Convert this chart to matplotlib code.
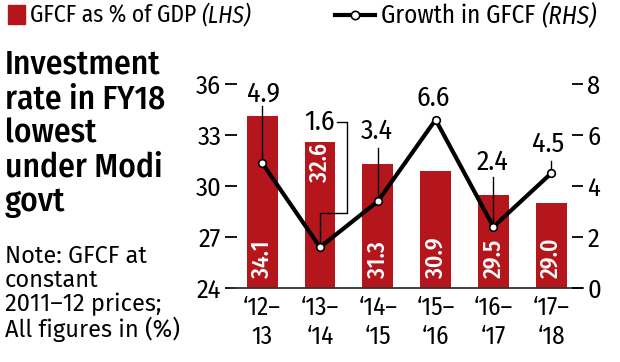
import matplotlib
matplotlib.use('Agg')
import matplotlib.pyplot as plt
from matplotlib.patches import Rectangle
from matplotlib.lines import Line2D

plt.rcParams['font.family'] = ['Fira Sans Condensed', 'Fira Sans Extra Condensed', 'DejaVu Sans']

# data
years = ['\u201812\u2013\n13', '\u201813\u2013\n\u201814', '\u201814\u2013\n\u201815',
         '\u201815\u2013\n\u201816', '\u201816\u2013\n\u201817', '\u201817\u2013\n\u201818']
gfcf_share = [34.1, 32.6, 31.3, 30.9, 29.5, 29.0]
gfcf_growth = [4.9, 1.6, 3.4, 6.6, 2.4, 4.5]
left_ticks = [24, 27, 30, 33, 36]
right_ticks = [0, 2, 4, 6, 8]

red = '#b5161c'
x = list(range(len(years)))

fig = plt.figure(figsize=(6.2, 3.62), dpi=100)
ax1 = fig.add_axes([0.3726, 0.2044, 0.5677, 0.5635])
ax2 = ax1.twinx()

#bars on left axis
ax1.bar(x, [v - 24 for v in gfcf_share], bottom=24, width=0.53, color=red, zorder=2)
ax1.set_ylim(24, 36)
ax1.set_xlim(-0.54, 5.55)
ax1.set_yticks(left_ticks)
ax1.set_xticks(x)
ax1.set_xticklabels(years, fontsize=18, linespacing=1.2)
ax1.tick_params(axis='x', length=0, pad=5)
ax1.tick_params(axis='y', direction='inout', length=8, width=1.3, pad=3, labelsize=19)

#bar values, rotated inside bars
for i, v in enumerate(gfcf_share):
    if i == 1:
        ax1.text(i, v - 0.05, f'{v:.1f}', rotation=90, ha='center', va='top',
                 color='white', fontsize=17, fontweight='medium', zorder=3)
    else:
        ax1.text(i, 24.6, f'{v:.1f}', rotation=90, ha='center', va='bottom',
                 color='white', fontsize=17, fontweight='medium', zorder=3)

#growth line on right axis
ax2.plot(x, gfcf_growth, color='black', lw=3, zorder=4,
         marker='o', ms=5.5, mfc='white', mec='black', mew=1.2, clip_on=False)
ax2.set_ylim(0, 8)
ax2.set_yticks(right_ticks)
ax2.tick_params(axis='y', direction='in', length=8, width=1.3, pad=3, labelsize=19)

for a in (ax1, ax2):
    for s in ['top', 'left', 'right']:
        a.spines[s].set_visible(False)
ax1.spines['bottom'].set_linewidth(1.3)
ax1.spines['bottom'].set_color('#333333')
ax2.spines['bottom'].set_visible(False)

#growth labels with leader lines
lab_pos = [(0.02, 7.6), (1.0, 6.5), (1.99, 6.15), (2.96, 7.45), (3.98, 4.95), (4.95, 5.65)]
for (lx, ly), v in zip(lab_pos, gfcf_growth):
    ax2.text(lx, ly, f'{v:.1f}', ha='center', va='center', fontsize=20, clip_on=False, zorder=5)

leaders = [
    ([0, 0], [7.15, 4.9]),
    ([1.3, 1.47, 1.47, 1.0, 1.0], [6.5, 6.5, 2.94, 2.94, 1.6]),
    ([2.0, 2.0], [5.5, 3.4]),
    ([4.0, 4.0], [4.35, 2.4]),
    ([5.0, 5.0], [5.0, 4.5]),
]
for lx, ly in leaders:
    ax2.plot(lx, ly, color='black', lw=1, zorder=3, clip_on=False)

#title and note
fig.text(0.008, 0.865, 'Investment\nrate in FY18\nlowest\nunder Modi\ngovt', fontsize=24,
         fontweight='medium', va='top', ha='left', linespacing=1.1)
fig.text(0.008, 0.325, 'Note: GFCF at\nconstant\n2011\u201312 prices;\nAll figures in (%)',
         fontsize=17, family=['Fira Sans', 'DejaVu Sans'], va='top', ha='left', linespacing=1.05)

#legend on top
fig.patches.append(Rectangle((0.013, 0.933), 0.027, 0.052, transform=fig.transFigure,
                             color=red, figure=fig))
r = fig.canvas.get_renderer()
t1 = fig.text(0.048, 0.958, 'GFCF as % of GDP ', fontsize=17, va='center')
bb = t1.get_window_extent(r).transformed(fig.transFigure.inverted())
fig.text(bb.x1, 0.958, '(LHS)', fontsize=17, va='center', style='italic')
fig.lines.append(Line2D([0.54, 0.605], [0.958, 0.958], transform=fig.transFigure,
                        color='black', lw=3, figure=fig))
fig.lines.append(Line2D([0.5725], [0.958], transform=fig.transFigure, color='black',
                        marker='o', ms=6, mfc='white', mec='black', mew=1.2, figure=fig))
t2 = fig.text(0.615, 0.958, 'Growth in GFCF ', fontsize=18, va='center')
bb = t2.get_window_extent(r).transformed(fig.transFigure.inverted())
fig.text(bb.x1, 0.958, '(RHS)', fontsize=18, va='center', style='italic')

plt.savefig('out.png', dpi=100)
